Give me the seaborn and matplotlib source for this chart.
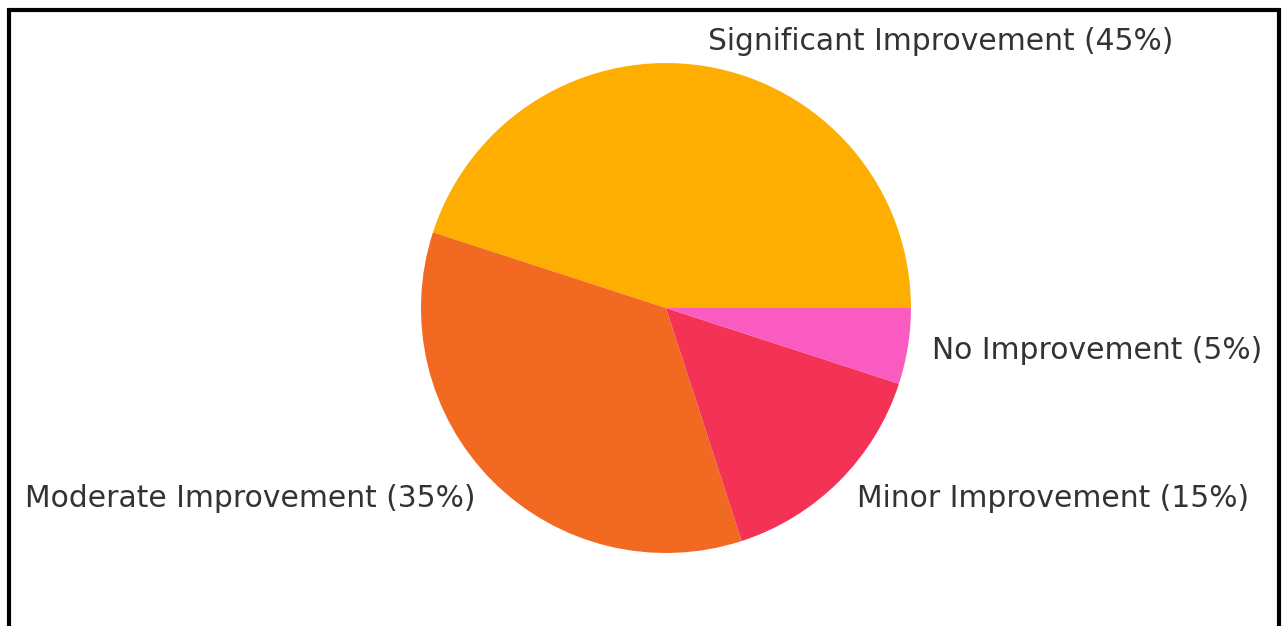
import matplotlib
matplotlib.use("Agg")
import matplotlib.pyplot as plt
import seaborn as sns
from matplotlib.patches import Rectangle

# =============================
# DATA
# =============================
categories = ["Significant Improvement", "Moderate Improvement",
              "Minor Improvement", "No Improvement"]
shares = [45, 35, 15, 5]
colors = ["#FDAE01", "#F26A21", "#F43256", "#F95BC1"]

labels = [f"{c} ({v}%)" for c, v in zip(categories, shares)]

sns.set_style("white")
plt.rcParams["font.family"] = ["DejaVu Sans"]

fig = plt.figure(figsize=(12.87, 6.26), dpi=100)
ax = fig.add_axes([0.3271, 0.1166, 0.3807, 0.7827])

ax.pie(shares, labels=labels, colors=colors, startangle=0,
       wedgeprops={"linewidth": 0},
       textprops={"fontsize": 21.4, "color": "#333333"})
ax.set_xlim(-1, 1)
ax.set_ylim(-1, 1)
ax.set_aspect("equal", adjustable="box")

# black frame around the figure (bottom edge falls outside the picture)
fig.patches.append(Rectangle((8.5 / 1287, -0.05), 1270 / 1287, 1.05 - 10.5 / 626,
                             transform=fig.transFigure, fill=False,
                             edgecolor="black", linewidth=3, zorder=10))

plt.savefig("out.png", dpi=100)
